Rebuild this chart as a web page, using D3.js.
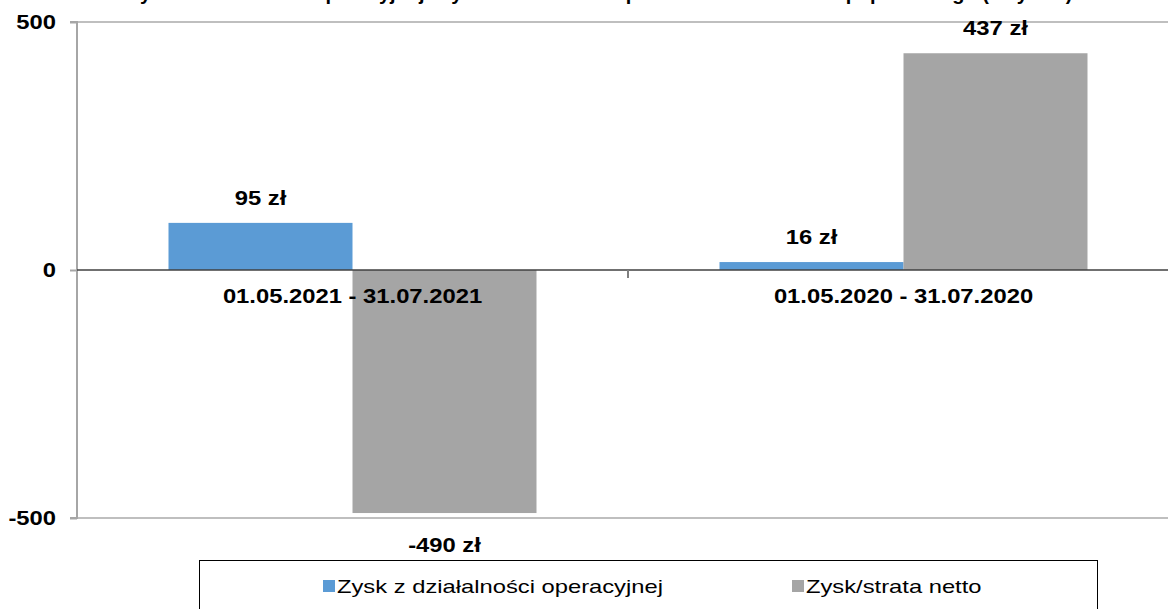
<!DOCTYPE html>
<html>
<head>
<meta charset="utf-8">
<script src="https://cdn.jsdelivr.net/npm/d3@7"></script>
<style>
  body { margin: 0; background: #fff; }
  svg { display: block; font-family: "Liberation Sans", Arial, sans-serif; }
</style>
</head>
<body>
<script>
// data
const title = "Zysk z działalności operacyjnej i zysk/strata netto w porównaniu do okresu poprzedniego (w tys. zł)";
const categories = ["01.05.2021 - 31.07.2021", "01.05.2020 - 31.07.2020"];
const seriesNames = ["Zysk z działalności operacyjnej", "Zysk/strata netto"];
const operacyjny = [95, 16];
const netto = [-490, 437];
const yTicks = [-500, 0, 500];

const colors = ["#5b9bd5", "#a5a5a5"];

const width = 1168, height = 609;
const plot = {left: 77, right: 1179, top: 22, bottom: 518};
const sx = 1.19;   // the picture's text is a bit wide

const svg = d3.select("body").append("svg")
    .attr("width", width)
    .attr("height", height);

// text is stretched sideways round its own x
function stretch(sel, s) {
    sel.each(function() {
        const t = d3.select(this);
        const x = +t.attr("x") || 0;
        t.attr("transform", `translate(${x},0) scale(${s},1)`).attr("x", 0);
    });
}

// title, mostly above the top edge as in the picture
svg.append("text")
    .attr("x", 600)
    .attr("y", 0)
    .attr("text-anchor", "middle")
    .style("font-weight", "bold")
    .style("font-size", "20px")
    .text(title);

let x0 = d3.scaleBand()
    .domain(categories)
    .range([plot.left, plot.right]);

let x1 = d3.scaleBand()
    .domain(seriesNames)
    .range([91.5, x0.bandwidth() - 91.5]);

let y = d3.scaleLinear()
    .domain([-500, 500])
    .range([plot.bottom, plot.top]);

const rows = categories.map((c, i) => ({
    cat: c,
    values: [
        {name: seriesNames[0], value: operacyjny[i], color: colors[0]},
        {name: seriesNames[1], value: netto[i], color: colors[1]}
    ]
}));

// gridlines at +-500
svg.append("g")
    .selectAll("line")
    .data(yTicks.filter(d => d !== 0))
    .enter().append("line")
        .attr("x1", plot.left)
        .attr("x2", width)
        .attr("y1", d => y(d))
        .attr("y2", d => y(d))
        .attr("stroke", "#bfbfbf")
        .attr("stroke-width", 2);

// y axis
const yAxis = d3.axisLeft(y)
    .tickValues(yTicks)
    .tickFormat(d => String(d))
    .tickSize(7)
    .tickPadding(14);
const ya = svg.append("g")
    .attr("transform", `translate(${plot.left},0)`)
    .call(yAxis);
ya.select(".domain").attr("stroke", "#a6a6a6").attr("stroke-width", 2)
    .attr("d", `M-7,${plot.top}H0V${plot.bottom}H-7`);
ya.selectAll(".tick line").attr("stroke", "#a6a6a6").attr("stroke-width", 2);
ya.selectAll(".tick text")
    .style("font-family", "Liberation Sans, Arial, sans-serif")
    .style("font-size", "20px")
    .style("font-weight", "bold")
    .attr("fill", "#000")
    .call(stretch, sx);

// bars
const groups = svg.append("g")
    .selectAll("g")
    .data(rows)
    .enter().append("g")
        .attr("transform", d => `translate(${x0(d.cat)},0)`);

groups.selectAll("rect")
    .data(d => d.values)
    .enter().append("rect")
        .attr("x", d => x1(d.name))
        .attr("width", x1.bandwidth())
        .attr("y", d => y(Math.max(0, d.value)))
        .attr("height", d => Math.abs(y(d.value) - y(0)))
        .attr("fill", d => d.color);

// data labels
groups.selectAll("text.val")
    .data(d => d.values)
    .enter().append("text")
        .attr("class", "val")
        .attr("x", d => x1(d.name) + x1.bandwidth() / 2)
        .attr("y", d => d.value >= 0 ? y(d.value) - 18 : y(d.value) + 39)
        .attr("text-anchor", "middle")
        .style("font-size", "20px")
        .style("font-weight", "bold")
        .text(d => d.value + " zł")
        .call(stretch, sx);

// zero line + category axis
const xAxis = d3.axisBottom(x0).tickSize(8).tickPadding(11).tickSizeOuter(0);
const xa = svg.append("g")
    .attr("transform", `translate(0,${y(0)})`)
    .call(xAxis);
xa.select(".domain").attr("stroke", "#404040").attr("stroke-width", 1.5)
    .attr("d", `M${plot.left},0H${plot.right}`);
xa.selectAll(".tick line").remove();
xa.append("line")
    .attr("x1", x0(categories[1])).attr("x2", x0(categories[1]))
    .attr("y1", 0).attr("y2", 8)
    .attr("stroke", "#7f7f7f").attr("stroke-width", 2);
xa.selectAll(".tick text")
    .style("font-family", "Liberation Sans, Arial, sans-serif")
    .style("font-size", "20px")
    .style("font-weight", "bold")
    .attr("fill", "#000")
    .call(stretch, sx);

// legend
const legend = svg.append("g");
legend.append("rect")
    .attr("x", 199.5).attr("y", 560.5)
    .attr("width", 898).attr("height", 80)
    .attr("fill", "#fff").attr("stroke", "#000");
const legendX = [323, 792];
const items = legend.selectAll("g.item")
    .data(seriesNames)
    .enter().append("g")
        .attr("transform", (d, i) => `translate(${legendX[i]},578)`);
items.append("rect")
    .attr("width", 12).attr("height", 12)
    .attr("y", 2)
    .attr("fill", (d, i) => colors[i]);
items.append("text")
    .attr("x", 14).attr("y", 15)
    .style("font-size", "19px")
    .text(d => d)
    .call(stretch, 1.25);
</script>
</body>
</html>
